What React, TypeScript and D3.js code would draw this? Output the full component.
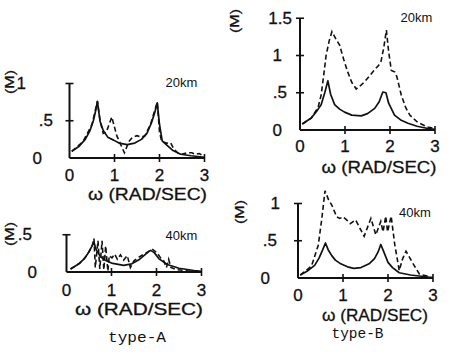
import React from 'react';
import * as d3 from 'd3';

type Pt = [number, number];

// ---------- data ----------
const omegaTicks = [0, 1, 2, 3];
const omegaTickLabels = ['0', '1', '2', '3'];
const xTitle = 'ω (RAD/SEC)';

const yTicksA20 = [0, 0.5, 1];
const yLabelsA20 = ['0', '.5', '1'];
const yTicksA40 = [0, 0.5];
const yLabelsA40 = ['0', '.5'];
const yTicksB20 = [0, 0.5, 1, 1.5];
const yLabelsB20 = ['0', '.5', '1', '1.5'];
const yTicksB40 = [0, 0.5, 1];
const yLabelsB40 = ['0', '.5', '1'];

const a20Solid: Pt[] = [
  [0.05, 0.09], [0.2, 0.15], [0.35, 0.25], [0.45, 0.36], [0.53, 0.5], [0.58, 0.63], [0.62, 0.76],
  [0.68, 0.49], [0.75, 0.37], [0.85, 0.28], [0.98, 0.24], [1.1, 0.2], [1.28, 0.18], [1.45, 0.2],
  [1.6, 0.25], [1.72, 0.33], [1.82, 0.47], [1.9, 0.62], [1.95, 0.74], [2.0, 0.45], [2.06, 0.23],
  [2.15, 0.18], [2.3, 0.1], [2.47, 0.05], [2.7, 0.03], [3.0, 0.01],
];
const a20Dashed: Pt[] = [
  [0.05, 0.09], [0.3, 0.22], [0.5, 0.45], [0.62, 0.76], [0.68, 0.5], [0.75, 0.33], [0.82, 0.35],
  [0.94, 0.55], [1.05, 0.3], [1.22, 0.07], [1.32, 0.22], [1.4, 0.28], [1.5, 0.3], [1.6, 0.28],
  [1.68, 0.3], [1.8, 0.45], [1.9, 0.65], [1.95, 0.75], [2.0, 0.35], [2.05, 0.22], [2.15, 0.2],
  [2.25, 0.2], [2.32, 0.12], [2.42, 0.06], [2.5, 0.05], [2.62, 0.07], [2.72, 0.07], [2.8, 0.05],
  [2.88, 0.06], [3.0, 0.02],
];
const a40Solid: Pt[] = [
  [0.09, 0.04], [0.25, 0.1], [0.4, 0.18], [0.5, 0.27], [0.56, 0.34], [0.61, 0.4], [0.66, 0.3],
  [0.75, 0.21], [0.85, 0.16], [1.0, 0.12], [1.27, 0.09], [1.45, 0.11], [1.6, 0.16], [1.72, 0.22],
  [1.82, 0.27], [1.87, 0.29], [1.95, 0.26], [2.05, 0.18], [2.24, 0.1], [2.5, 0.05], [2.83, 0.02],
  [3.0, 0.01],
];
const a40Dashed: Pt[] = [
  [0.09, 0.04], [0.3, 0.12], [0.45, 0.22], [0.57, 0.35], [0.61, 0.45], [0.64, 0.06], [0.7, 0.42],
  [0.74, 0.04], [0.79, 0.42], [0.83, 0.03], [0.87, 0.35], [0.92, 0.01], [0.95, 0.22], [1.01, 0.19],
  [1.07, 0.24], [1.13, 0.17], [1.2, 0.23], [1.27, 0.16], [1.35, 0.22], [1.42, 0.06], [1.5, 0.15],
  [1.61, 0.2], [1.72, 0.24], [1.81, 0.27], [1.9, 0.31], [2.01, 0.26], [2.09, 0.19], [2.16, 0.15],
  [2.22, 0.06], [2.27, 0.17], [2.32, 0.06], [2.42, 0.035], [2.68, 0.015], [3.0, 0.01],
];
const b20Solid: Pt[] = [
  [0.05, 0.08], [0.25, 0.16], [0.38, 0.26], [0.47, 0.34], [0.55, 0.5], [0.62, 0.66], [0.68, 0.48],
  [0.77, 0.34], [0.88, 0.28], [0.99, 0.24], [1.15, 0.2], [1.36, 0.19], [1.5, 0.22], [1.66, 0.29],
  [1.76, 0.38], [1.84, 0.51], [1.91, 0.5], [1.97, 0.36], [2.1, 0.2], [2.25, 0.13], [2.4, 0.09],
  [2.6, 0.05], [2.84, 0.02], [3.0, 0.01],
];
const b20Dashed: Pt[] = [
  [0.05, 0.08], [0.25, 0.16], [0.4, 0.3], [0.47, 0.47], [0.53, 0.75], [0.58, 1.0], [0.65, 1.2],
  [0.71, 1.32], [0.8, 1.22], [0.88, 1.14], [0.97, 0.95], [1.06, 0.78], [1.15, 0.64], [1.25, 0.55],
  [1.35, 0.6], [1.44, 0.65], [1.55, 0.73], [1.66, 0.81], [1.75, 0.87], [1.8, 0.92], [1.86, 1.1],
  [1.92, 1.34], [1.97, 1.05], [2.03, 0.8], [2.1, 0.78], [2.15, 0.72], [2.25, 0.47], [2.35, 0.3],
  [2.44, 0.2], [2.62, 0.1], [2.84, 0.04], [3.0, 0.02],
];
const b40Solid: Pt[] = [
  [0.05, 0.04], [0.2, 0.09], [0.37, 0.17], [0.47, 0.27], [0.55, 0.38], [0.61, 0.47], [0.67, 0.38],
  [0.75, 0.3], [0.83, 0.24], [0.95, 0.19], [1.1, 0.15], [1.24, 0.13], [1.4, 0.14], [1.58, 0.19],
  [1.7, 0.26], [1.78, 0.35], [1.84, 0.45], [1.9, 0.36], [2.0, 0.21], [2.1, 0.14], [2.25, 0.07],
  [2.5, 0.04], [2.93, 0.01], [3.0, 0.01],
];
const b40Dashed: Pt[] = [
  [0.05, 0.04], [0.3, 0.16], [0.45, 0.44], [0.53, 0.8], [0.6, 1.17], [0.68, 1.05], [0.75, 0.98],
  [0.86, 0.82], [0.93, 0.8], [1.0, 0.82], [1.08, 0.78], [1.16, 0.73], [1.28, 0.78], [1.47, 0.56],
  [1.62, 0.8], [1.73, 0.58], [1.84, 0.76], [1.89, 0.62], [1.95, 0.83], [1.99, 0.62], [2.07, 0.83],
  [2.15, 0.45], [2.25, 0.1], [2.32, 0.25], [2.4, 0.36], [2.55, 0.2], [2.7, 0.05], [2.92, 0.02],
];

// ---------- layout ----------
const PX_X = 45;
const PX_Y = 74.5;
const SANS = 'Liberation Sans, Arial, sans-serif';
const MONO = 'Liberation Mono, DejaVu Sans Mono, monospace';

interface PanelCfg {
  x0: number; y0: number; yMax: number;
  yTicks: number[]; yLabels: string[]; yLabelRight: number[];
  mPos: [number, number];
  xLabelY: number;
  title: [number, number, number];
  km: string; kmPos: [number, number];
  solid: Pt[]; dashed: Pt[];
  type?: string; typePos?: [number, number, number];
}

const panels: PanelCfg[] = [
  {
    x0: 69.5, y0: 158, yMax: 1, yTicks: yTicksA20, yLabels: yLabelsA20, yLabelRight: [42, 53, 26],
    mPos: [9, 82], xLabelY: 175.5, title: [147.5, 194, 119], km: '20km', kmPos: [181.5, 82.5],
    solid: a20Solid, dashed: a20Dashed,
  },
  {
    x0: 66.5, y0: 272, yMax: 0.5, yTicks: yTicksA40, yLabels: yLabelsA40, yLabelRight: [37, 32],
    mPos: [9, 234], xLabelY: 290.5, title: [139, 309, 128], km: '40km', kmPos: [181.5, 235],
    solid: a40Solid, dashed: a40Dashed, type: 'type-A', typePos: [137, 338, 58],
  },
  {
    x0: 300, y0: 130, yMax: 1.5, yTicks: yTicksB20, yLabels: yLabelsB20, yLabelRight: [282, 287, 282, 292],
    mPos: [234, 21], xLabelY: 146, title: [379, 167, 115], km: '20km', kmPos: [416.5, 17],
    solid: b20Solid, dashed: b20Dashed,
  },
  {
    x0: 298, y0: 278, yMax: 1, yTicks: yTicksB40, yLabels: yLabelsB40, yLabelRight: [270, 277, 280],
    mPos: [239, 212], xLabelY: 295.5, title: [375, 315, 106], km: '40km', kmPos: [415, 212],
    solid: b40Solid, dashed: b40Dashed, type: 'type-B', typePos: [357.5, 334, 52],
  },
];

function Panel({ p }: { p: PanelCfg }) {
  const x = d3.scaleLinear().domain([0, 3]).range([p.x0, p.x0 + 3 * PX_X]);
  const y = d3.scaleLinear().domain([0, p.yMax]).range([p.y0, p.y0 - p.yMax * PX_Y]);
  const line = d3.line<Pt>().x(d => x(d[0])).y(d => y(d[1]));
  const ink = '#111';
  const heavy = { stroke: ink, strokeWidth: 0.3 };
  return (
    <g>
      {/* axes */}
      <line x1={x(0)} x2={x(3)} y1={y(0)} y2={y(0)} stroke={ink} strokeWidth={2} />
      <line x1={x(0)} x2={x(0)} y1={y(0)} y2={y(p.yMax)} stroke={ink} strokeWidth={2} />
      {omegaTicks.slice(1).map(t => (
        <line key={'xt' + t} x1={x(t)} x2={x(t)} y1={y(0) - 4} y2={y(0) + 4} stroke={ink} strokeWidth={1.6} />
      ))}
      {p.yTicks.slice(1).map(t => (
        <line key={'yt' + t} x1={x(0) - 4} x2={x(0) + 4} y1={y(t)} y2={y(t)} stroke={ink} strokeWidth={1.6} />
      ))}
      {/* curves */}
      <path d={line(p.solid) || ''} fill="none" stroke={ink} strokeWidth={1.7} strokeLinejoin="round" />
      <path d={line(p.dashed) || ''} fill="none" stroke={ink} strokeWidth={1.6} strokeDasharray="5,3" />
      {/* tick labels */}
      {omegaTicks.map((t, i) => (
        <text key={'xl' + t} x={x(t)} y={p.xLabelY} textAnchor="middle" dominantBaseline="central"
          fontFamily={SANS} fontSize={17} fill={ink} {...heavy}>{omegaTickLabels[i]}</text>
      ))}
      {p.yTicks.map((t, i) => (
        <text key={'yl' + t} x={p.yLabelRight[i]} y={y(t)} textAnchor="end" dominantBaseline="central"
          fontFamily={SANS} fontSize={17} fill={ink} {...heavy}>{p.yLabels[i]}</text>
      ))}
      <text x={p.mPos[0]} y={p.mPos[1]} transform={`rotate(-90 ${p.mPos[0]} ${p.mPos[1]})`}
        textAnchor="middle" dominantBaseline="central" fontFamily={SANS} fontSize={13} fill={ink}
        textLength={24} lengthAdjust="spacingAndGlyphs" {...heavy}>(M)</text>
      <text x={p.title[0]} y={p.title[1]} textAnchor="middle" dominantBaseline="central"
        fontFamily={SANS} fontSize={17} fill={ink} textLength={p.title[2]} lengthAdjust="spacingAndGlyphs" {...heavy}>{xTitle}</text>
      <text x={p.kmPos[0]} y={p.kmPos[1]} textAnchor="middle" dominantBaseline="central"
        fontFamily={SANS} fontSize={13} fill={ink}>{p.km}</text>
      {p.type && p.typePos && (
        <text x={p.typePos[0]} y={p.typePos[1]} textAnchor="middle" dominantBaseline="central"
          fontFamily={MONO} fontSize={14} fill={ink} textLength={p.typePos[2]} lengthAdjust="spacingAndGlyphs">{p.type}</text>
      )}
    </g>
  );
}

export default function App() {
  return (
    <svg width={450} height={354} style={{ position: 'absolute', left: 0, top: 0, background: '#fff' }}>
      <rect x={0} y={0} width={450} height={354} fill="#fff" />
      {panels.map((p, i) => <Panel key={i} p={p} />)}
    </svg>
  );
}
